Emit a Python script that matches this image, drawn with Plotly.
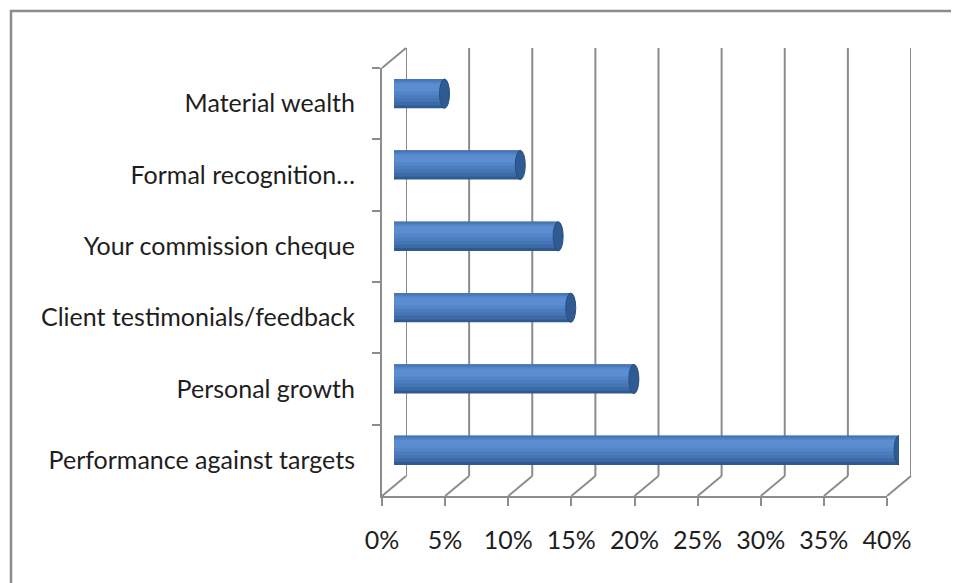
import plotly.graph_objects as go

# ---------------- data ----------------
categories = [
    "Material wealth",
    "Formal recognition…",
    "Your commission cheque",
    "Client testimonials/feedback",
    "Personal growth",
    "Performance against targets",
]
values = [0.04, 0.10, 0.13, 0.14, 0.19, 0.40]
x_ticks = [0, 0.05, 0.10, 0.15, 0.20, 0.25, 0.30, 0.35, 0.40]
x_tick_labels = ["0%", "5%", "10%", "15%", "20%", "25%", "30%", "35%", "40%"]
x_range = [0, 0.40]

# ---------------- geometry / style ----------------
PAGE_OFF = 8                      # default body margin of the html page
W, H = 959 - PAGE_OFF, 583 - PAGE_OFF
FRONT_L, FRONT_R, FRONT_T, FRONT_B = (382 - PAGE_OFF, 887 - PAGE_OFF,
                                      68 - PAGE_OFF, 496 - PAGE_OFF)
DX, DY = 24, 20          # depth offset of the back wall (pixels)
GRID = "#8c8c8c"
TEXT = "#1e1e1e"
FONT = "Lato"
FS = 25
BAR_W = 0.41
N = len(categories)


def xdom(l, r):
    return [l / W, r / W]


def ydom(t, b):
    return [1 - b / H, 1 - t / H]


fig = go.Figure()

# back wall subplot (x, y)
fig.add_trace(go.Scatter(x=[0] * N, y=categories, mode="markers",
                         marker=dict(opacity=0), hoverinfo="skip",
                         showlegend=False, xaxis="x", yaxis="y"))

# cylinder bars (x2, y2) built from layered bars for shading
layers = [
    (-BAR_W / 2, BAR_W, "#2f5a90"),
    (-BAR_W / 2, BAR_W - 0.04, "#3c6aa6"),
    (-BAR_W / 2, BAR_W - 0.09, "#4575b4"),
    (-BAR_W / 2 + 0.02, BAR_W - 0.16, "#4b7dbe"),
    (-BAR_W / 2 + 0.04, BAR_W - 0.23, "#5485c8"),
    (-BAR_W / 2 + 0.06, BAR_W - 0.30, "#5b8dd1"),
]
for off, w, col in layers:
    fig.add_trace(go.Bar(
        x=values, y=categories, orientation="h",
        width=w, offset=off,
        marker=dict(color=col, line=dict(width=0)),
        hoverinfo="skip", showlegend=False,
        xaxis="x2", yaxis="y2",
    ))

# front subplot (x3, y3) - axes, ticks and labels
fig.add_trace(go.Scatter(x=[0] * N, y=categories, mode="markers",
                         marker=dict(opacity=0), hoverinfo="skip",
                         showlegend=False, xaxis="x3", yaxis="y3"))

shapes = []
# outer chart border
shapes.append(dict(type="rect", xref="paper", yref="paper",
                   x0=(11 - PAGE_OFF) / W, x1=1.05, y0=-0.05,
                   y1=1 - (11 - PAGE_OFF) / H,
                   line=dict(color=GRID, width=2.5), fillcolor="rgba(0,0,0,0)",
                   layer="below"))
for t in x_ticks:
    # back-wall vertical gridline
    shapes.append(dict(type="line", xref="x", yref="y domain",
                       x0=t, x1=t, y0=0, y1=1,
                       line=dict(color=GRID, width=2), layer="below"))
    # floor diagonal from front tick to back gridline
    frac = (t - x_range[0]) / (x_range[1] - x_range[0])
    shapes.append(dict(type="line", xref="x3 domain", yref="y3 domain",
                       xsizemode="pixel", xanchor=frac, x0=0, x1=DX,
                       ysizemode="pixel", yanchor=0, y0=0, y1=DY,
                       line=dict(color=GRID, width=2), layer="below"))
# left-wall top diagonal
shapes.append(dict(type="line", xref="x3 domain", yref="y3 domain",
                   xsizemode="pixel", xanchor=0, x0=0, x1=DX,
                   ysizemode="pixel", yanchor=1, y0=0, y1=DY,
                   line=dict(color=GRID, width=2), layer="below"))
# cylinder caps
for i, v in enumerate(values):
    shapes.append(dict(type="circle", xref="x2", yref="y2",
                       xsizemode="pixel", xanchor=0, x0=-5, x1=5,
                       y0=i - BAR_W / 2, y1=i + BAR_W / 2,
                       fillcolor="#4677b8", line=dict(width=0), layer="below"))
    shapes.append(dict(type="circle", xref="x2", yref="y2",
                       xsizemode="pixel", xanchor=v, x0=-5, x1=5,
                       y0=i - BAR_W / 2, y1=i + BAR_W / 2,
                       fillcolor="#2f5b92", line=dict(color="#294f80", width=1),
                       layer="above"))

yrange = [N - 0.5, -0.5]
common_hidden_y = dict(type="category", range=yrange, showgrid=False,
                       showticklabels=False, zeroline=False, showline=False,
                       ticks="", fixedrange=True)

fig.update_layout(
    width=W, height=H,
    autosize=False,
    margin=dict(l=0, r=0, t=0, b=0, pad=0, autoexpand=False),
    paper_bgcolor="white",
    plot_bgcolor="rgba(0,0,0,0)",
    barmode="overlay",
    showlegend=False,
    font=dict(family=FONT, size=FS, color=TEXT),
    xaxis=dict(domain=xdom(FRONT_L + DX, FRONT_R + DX), range=x_range,
               showgrid=False, showticklabels=False,
               zeroline=False, showline=False, ticks="", anchor="y",
               fixedrange=True),
    yaxis=dict(domain=ydom(FRONT_T - DY, FRONT_B - DY), anchor="x",
               **common_hidden_y),
    xaxis2=dict(domain=xdom(FRONT_L + DX / 2, FRONT_R + DX / 2), range=x_range,
                showgrid=False, showticklabels=False, zeroline=False,
                showline=False, ticks="", anchor="y2", fixedrange=True),
    yaxis2=dict(domain=ydom(FRONT_T - DY / 2, FRONT_B - DY / 2), anchor="x2",
                **common_hidden_y),
    xaxis3=dict(domain=xdom(FRONT_L, FRONT_R), range=x_range,
                tickmode="array", tickvals=x_ticks, ticktext=x_tick_labels,
                showgrid=False, zeroline=False, showline=True,
                linecolor=GRID, linewidth=2, ticks="outside", ticklen=8,
                tickwidth=2, tickcolor=GRID, ticklabelstandoff=13,
                tickfont=dict(family=FONT, size=FS, color=TEXT),
                anchor="y3", fixedrange=True),
    yaxis3=dict(domain=ydom(FRONT_T, FRONT_B), type="category", range=yrange,
                showgrid=False, zeroline=False, showline=True,
                linecolor=GRID, linewidth=2, ticks="outside", ticklen=8,
                tickwidth=2, tickcolor=GRID, tickson="boundaries",
                ticklabelstandoff=20,
                tickfont=dict(family=FONT, size=FS, color=TEXT),
                anchor="x3", fixedrange=True),
    shapes=shapes,
)

fig.write_html("out.html")
